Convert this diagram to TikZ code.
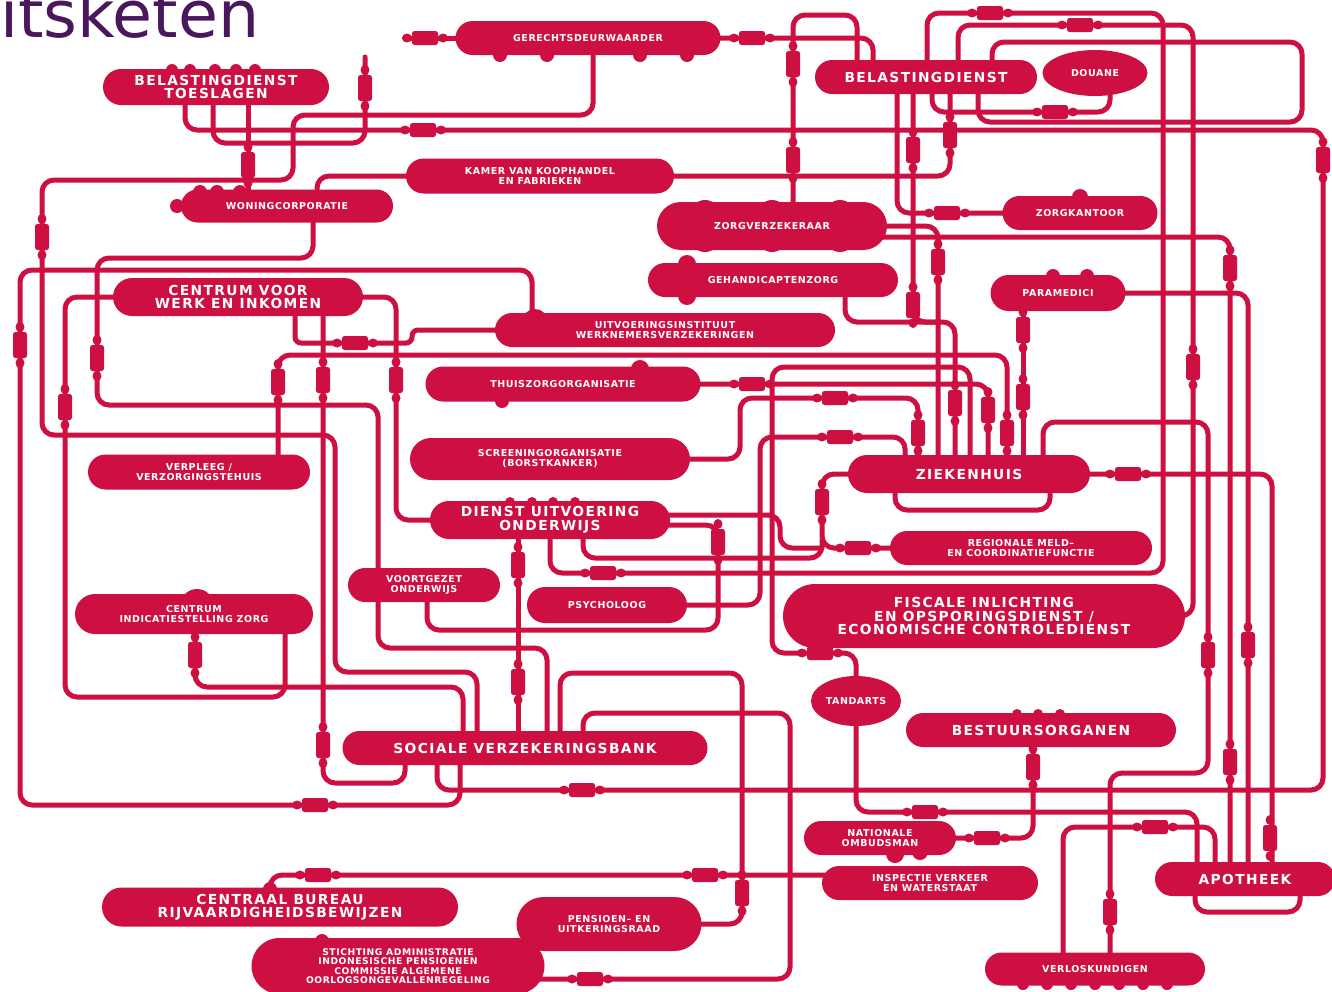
\documentclass[tikz,border=0pt]{standalone}
\usepackage{fontspec}
\setmainfont{DejaVu Sans}
\newfontfamily\labfont{DejaVu Sans}[LetterSpace=6]
\newfontfamily\biglabfont{DejaVu Sans}[LetterSpace=10]
\usetikzlibrary{shapes.misc,shapes.geometric}
\definecolor{crim}{RGB}{205,16,65}
\definecolor{plum}{RGB}{74,22,92}
\pgfdeclarelayer{bg}
\pgfsetlayers{bg,main}
\tikzset{
  org/.style={rounded rectangle, fill=crim, text=white, align=center, inner sep=0pt, font=\labfont\bfseries\fontsize{9.5}{10}\selectfont},
  oval/.style={ellipse, fill=crim, text=white, align=center, inner sep=0pt, font=\labfont\bfseries\fontsize{9.5}{10}\selectfont},
  big/.style={font=\biglabfont\bfseries\fontsize{13.8}{13.5}\selectfont},
  tiny4/.style={font=\labfont\bfseries\fontsize{9.2}{9.4}\selectfont},
  pipe/.style={draw=crim, line width=5pt, rounded corners=12pt, line cap=round},
  lump/.style={fill=crim},
  hfit/.pic={
    \fill[crim, rounded corners=2.5pt] (-13pt,-7pt) rectangle (13pt,7pt);
    \fill[crim] (-18pt,0pt) ellipse [x radius=5pt, y radius=4.5pt];
    \fill[crim] (18pt,0pt) ellipse [x radius=5pt, y radius=4.5pt];
  },
  vfit/.pic={
    \fill[crim, rounded corners=2.5pt] (-7pt,-13pt) rectangle (7pt,13pt);
    \fill[crim] (0pt,-18pt) ellipse [x radius=4.5pt, y radius=5pt];
    \fill[crim] (0pt,18pt) ellipse [x radius=4.5pt, y radius=5pt];
  }
}
\begin{document}
\begin{tikzpicture}[x=1pt,y=-1pt]
\useasboundingbox (0,0) rectangle (1332,991);

\node[anchor=base west, inner sep=0pt, text=plum, font=\fontsize{65}{65}\selectfont] (title) at (0,37) {itsketen};

\node[org,big,minimum width=226pt,minimum height=36pt] (bdt) at (216,87) {BELASTINGDIENST\\TOESLAGEN};
\node[org,minimum width=265pt,minimum height=34pt] (gd) at (588,38) {GERECHTSDEURWAARDER};
\node[org,big,minimum width=222pt,minimum height=34pt] (bd) at (926,77) {BELASTINGDIENST};
\node[oval,minimum width=105pt,minimum height=46pt] (dou) at (1095,73) {DOUANE};
\node[org,minimum width=268pt,minimum height=35pt] (kvk) at (540,176) {KAMER VAN KOOPHANDEL\\EN FABRIEKEN};
\node[org,minimum width=212pt,minimum height=33pt] (wc) at (287,206) {WONINGCORPORATIE};
\node[org,minimum width=230pt,minimum height=48pt] (zv) at (772,226) {ZORGVERZEKERAAR};
\node[org,minimum width=155pt,minimum height=34pt] (zk) at (1080,213) {ZORGKANTOOR};
\node[org,minimum width=250pt,minimum height=34pt] (gz) at (773,280) {GEHANDICAPTENZORG};
\node[org,minimum width=135pt,minimum height=36pt] (par) at (1058,293) {PARAMEDICI};
\node[org,big,minimum width=250pt,minimum height=38pt] (cwi) at (238,297) {CENTRUM VOOR\\WERK EN INKOMEN};
\node[org,minimum width=340pt,minimum height=34pt] (uwv) at (665,330) {UITVOERINGSINSTITUUT\\WERKNEMERSVERZEKERINGEN};
\node[org,minimum width=275pt,minimum height=35pt] (thu) at (563,384) {THUISZORGORGANISATIE};
\node[org,minimum width=280pt,minimum height=42pt] (scr) at (550,459) {SCREENINGORGANISATIE\\(BORSTKANKER)};
\node[org,big,minimum width=242pt,minimum height=38pt] (zh) at (969,474) {ZIEKENHUIS};
\node[org,minimum width=222pt,minimum height=35pt] (ver) at (199,472) {VERPLEEG /\\VERZORGINGSTEHUIS};
\node[org,big,minimum width=240pt,minimum height=38pt] (duo) at (550,520) {DIENST UITVOERING\\ONDERWIJS};
\node[org,minimum width=262pt,minimum height=34pt] (reg) at (1021,548) {REGIONALE MELD–\\EN COORDINATIEFUNCTIE};
\node[org,minimum width=152pt,minimum height=34pt] (vo) at (424,585) {VOORTGEZET\\ONDERWIJS};
\node[org,minimum width=160pt,minimum height=36pt] (psy) at (607,605) {PSYCHOLOOG};
\node[org,minimum width=238pt,minimum height=40pt] (ciz) at (194,614) {CENTRUM\\INDICATIESTELLING ZORG};
\node[org,big,minimum width=402pt,minimum height=64pt] (fiod) at (984,616) {FISCALE INLICHTING\\EN OPSPORINGSDIENST /\\ECONOMISCHE CONTROLEDIENST};
\node[oval,minimum width=90pt,minimum height=50pt] (tan) at (856,701) {TANDARTS};
\node[org,big,minimum width=270pt,minimum height=34pt] (bo) at (1041,730) {BESTUURSORGANEN};
\node[org,big,minimum width=365pt,minimum height=34pt] (svb) at (525,748) {SOCIALE VERZEKERINGSBANK};
\node[org,minimum width=152pt,minimum height=34pt] (no) at (880,838) {NATIONALE\\OMBUDSMAN};
\node[org,minimum width=216pt,minimum height=34pt] (ins) at (930,883) {INSPECTIE VERKEER\\EN WATERSTAAT};
\node[org,big,minimum width=180pt,minimum height=34pt] (apo) at (1245,879) {APOTHEEK};
\node[org,big,minimum width=356pt,minimum height=39pt] (cbr) at (280,907) {CENTRAAL BUREAU\\RIJVAARDIGHEIDSBEWIJZEN};
\node[org,minimum width=185pt,minimum height=54pt] (pen) at (609,924) {PENSIOEN– EN\\UITKERINGSRAAD};
\node[org,tiny4,minimum width=293pt,minimum height=56pt] (sai) at (398,966) {STICHTING ADMINISTRATIE\\INDONESISCHE PENSIOENEN\\COMMISSIE ALGEMENE\\OORLOGSONGEVALLENREGELING};
\node[org,minimum width=220pt,minimum height=33pt] (vk) at (1095,969) {VERLOSKUNDIGEN};

\begin{pgfonlayer}{bg}
\fill[white] (0,0) rectangle (1332,991);
\coordinate (gdend) at (405,38);
\coordinate (topend) at (365,57);
% pipes
\draw[pipe] (gd.center) -- (gdend);
\draw[pipe] (gd.center) -- (873,38) -- ([xshift=-53pt]bd.center);
\draw[pipe] ([xshift=21pt]zv.center) -- (793,15) -- (857,15) -- ([xshift=-69pt]bd.center);
\draw[pipe] ([xshift=5pt]gd.center) -- (593,115) -- (293,115) -- (293,180) -- (42,180) -- (42,435) -- (335,435) -- (335,672) -- (477,672) -- ([xshift=-48pt]svb.center);
\draw[pipe] ([xshift=-3pt]bdt.center) -- (213,143) -- (365,143) -- (topend);
\draw[pipe] ([xshift=32pt]bdt.center) -- ([xshift=-39pt]wc.center);
\draw[pipe] ([xshift=-31pt]bdt.center) -- (185,130) -- (1323,130) -- (1323,790) -- (437,790) -- ([xshift=-88pt]svb.center);
\draw[pipe] ([xshift=1pt]bd.center) -- (927,13) -- (1163,13) -- (1163,573) -- (550,573) -- (duo.center);
\draw[pipe] ([xshift=32pt]bd.center) -- (958,25) -- (1193,25) -- (1193,616) -- (fiod.center);
\draw[pipe] ([xshift=66pt]bd.center) -- (992,42) -- (1302,42) -- (1302,122) -- (978,122) -- ([xshift=52pt]bd.center);
\draw[pipe] ([xshift=6pt]bd.center) -- (932,112) -- (1110,112) -- ([xshift=15pt]dou.center);
\draw[pipe] ([xshift=-29pt]bd.center) -- (897,213) -- (zk.center);
\draw[pipe] ([xshift=-13pt]bd.center) -- (913,322) -- (940,322);
\draw[pipe] (kvk.center) -- (950,176) -- ([xshift=24pt]bd.center);
\draw[pipe] ([xshift=30pt]wc.center) -- (317,176) -- (kvk.center);
\draw[pipe] ([xshift=26pt]wc.center) -- (313,258) -- (97,258) -- (97,405) -- (378,405) -- (378,648) -- (547,648) -- ([xshift=22pt]svb.center);
\draw[pipe] ([xshift=-133pt]uwv.center) -- (532,270) -- (20,270) -- (20,805) -- (460,805) -- ([xshift=-65pt]svb.center);
\draw[pipe] (cwi.center) -- (65,297) -- (65,697) -- (285,697) -- ([xshift=91pt]ciz.center);
\draw[pipe] ([xshift=1pt]ciz.center) -- (195,687) -- (463,687) -- ([xshift=-62pt]svb.center);
\draw[pipe, rounded corners=6pt] ([xshift=57pt]cwi.center) -- (295,343) -- (412,343) -- (412,330) -- (uwv.center);
\draw[pipe] ([xshift=85pt]cwi.center) -- (323,783) -- (405,783) -- ([xshift=-120pt]svb.center);
\draw[pipe] (cwi.center) -- (396,297) -- (396,520) -- (duo.center);
\draw[pipe] ([xshift=79pt]ver.center) -- (278,355) -- (1007,355) -- ([xshift=38pt]zh.center);
\draw[pipe] (tan.center) -- (856,653) -- (772,653) -- (772,367) -- (970,367) -- ([xshift=1pt]zh.center);
\draw[pipe] (thu.center) -- (988,384) -- ([xshift=19pt]zh.center);
\draw[pipe] (scr.center) -- (740,459) -- (740,398) -- (918,398) -- ([xshift=-51pt]zh.center);
\draw[pipe] (psy.center) -- (760,605) -- (760,437) -- (905,437) -- ([xshift=-64pt]zh.center);
\draw[pipe] (zv.center) -- (938,226) -- ([xshift=-31pt]zh.center);
\draw[pipe] ([yshift=-11pt]zv.center) -- (1230,237) -- ([xshift=-15pt]apo.center);
\draw[pipe] ([xshift=72pt]gz.center) -- (845,322) -- (955,322) -- ([xshift=-14pt]zh.center);
\draw[pipe] ([xshift=-35pt]par.center) -- ([xshift=54pt]zh.center);
\draw[pipe] (par.center) -- (1248,293) -- ([xshift=3pt]apo.center);
\draw[pipe] ([xshift=74pt]zh.center) -- (1043,422) -- (1208,422) -- (1208,773) -- (1110,773) -- ([xshift=15pt]vk.center);
\draw[pipe] (zh.center) -- (1272,474) -- ([xshift=27pt]apo.center);
\draw[pipe] ([xshift=-74pt]zh.center) -- (895,510) -- (1050,510) -- ([xshift=81pt]zh.center);
\draw[pipe] (zh.center) -- (822,474) -- (822,548) -- (reg.center);
\draw[pipe] ([yshift=5pt]duo.center) -- (780,515) -- (780,548) -- (822,548);
\draw[pipe] ([yshift=-5pt]duo.center) -- (718,525) -- (718,630) -- (427,630) -- ([xshift=3pt]vo.center);
\draw[pipe] ([xshift=33pt]duo.center) -- (583,558) -- (822,558) -- (822,540);
\draw[pipe] ([xshift=-32pt]duo.center) -- ([xshift=-7pt]svb.center);
\draw[pipe] (pen.center) -- (742,924) -- (742,673) -- (560,673) -- ([xshift=35pt]svb.center);
\draw[pipe] ([yshift=-13pt]sai.center) -- (790,979) -- (790,713) -- (583,713) -- ([xshift=58pt]svb.center);
\draw[pipe] ([xshift=-10pt]cbr.center) -- (270,875) -- ([yshift=8pt]ins.center);
\draw[pipe] (tan.center) -- (856,812) -- (1197,812) -- ([xshift=-48pt]apo.center);
\draw[pipe] ([xshift=-8pt]bo.center) -- (1033,838) -- (no.center);
\draw[pipe] ([xshift=-32pt]vk.center) -- (1063,827) -- (1215,827) -- ([xshift=-30pt]apo.center);
\draw[pipe] ([xshift=-50pt]apo.center) -- (1195,912) -- (1300,912) -- ([xshift=55pt]apo.center);
% fittings
\foreach \p in {(425,38),(752,38),(423,130),(582,790),(990,13),(1080,25),(603,573),(1055,112),(947,213),(355,343),(315,805),(752,384),(835,398),(840,437),(858,548),(1128,474),(820,653),(590,979),(318,875),(705,875),(925,812),(987,838),(1155,827)}
  \pic at \p {hfit};
\foreach \p in {(793,64),(793,160),(365,88),(248,165),(1323,160),(1193,367),(913,150),(913,305),(950,135),(97,358),(20,345),(65,407),(195,655),(323,380),(323,745),(396,380),(278,382),(42,237),(938,262),(1230,268),(1230,762),(955,403),(1023,330),(1023,397),(1248,645),(1208,655),(1110,912),(1270,838),(822,502),(718,542),(518,565),(518,682),(742,893),(1033,767),(918,433),(1007,433),(988,410)}
  \pic at \p {vfit};
% lumps on the blobs
\foreach \x in {172,190,215,236,255} \fill[lump] (\x,70) circle [radius=6pt];
\foreach \x in {500,547,640,687} \fill[lump] (\x,55) circle [radius=7pt];
\fill[lump] (1080,197) circle [radius=8pt];
\fill[lump] (1053,276) circle [radius=7pt];
\fill[lump] (1087,276) circle [radius=7pt];
\fill[lump] (687,264) circle [radius=9pt];
\fill[lump] (687,296) circle [radius=9pt];
\foreach \x in {510,532,553,575} \fill[lump] (\x,502) circle [radius=5pt];
\foreach \x in {1017,1038,1060} \fill[lump] (\x,714) circle [radius=5pt];
\foreach \x in {1023,1047,1071,1095,1119,1143,1167} \fill[lump] (\x,984) circle [radius=6pt];
\fill[lump] (640,369) circle [radius=9pt];
\fill[lump] (502,401) circle [radius=7pt];
\fill[lump] (895,854) circle [radius=9pt];
\fill[lump] (920,852) circle [radius=8pt];
\fill[lump] (270,889) circle [radius=7pt];
\fill[lump] (322,941) circle [radius=7pt];
\foreach \x in {200,217,240} \fill[lump] (\x,192) circle [radius=7pt];
\fill[lump] (177,206) circle [radius=7pt];
\fill[lump] (197,606) circle [radius=17pt];
\fill[lump] (112,609) circle [radius=14pt];
\fill[lump] (284,609) circle [radius=14pt];
\fill[lump] (535,322) circle [radius=13pt];
\fill[lump] (663,171) circle [radius=7pt];
\foreach \x in {705,772,840} {\fill[lump] (\x,215) circle [radius=15pt]; \fill[lump] (\x,237) circle [radius=15pt];}
\end{pgfonlayer}
\end{tikzpicture}
\end{document}
